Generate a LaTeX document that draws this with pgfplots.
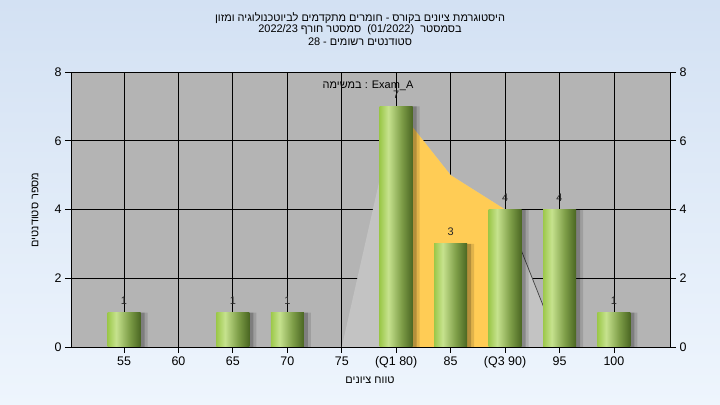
\documentclass[border=0pt]{standalone}
\usepackage{fontspec}
\setmainfont{Liberation Sans}
\newfontfamily\heb[Script=Hebrew]{Liberation Sans}
\usepackage{pgfplots}
\pgfplotsset{compat=1.18}
\TeXXeTstate=1
\definecolor{bgtop}{HTML}{D3E1F3}
\definecolor{bgbot}{HTML}{EEF5FD}
\definecolor{plotbg}{HTML}{B4B4B4}
\definecolor{polygray}{HTML}{C3C3C3}
\definecolor{qorange}{HTML}{FFCC55}
\definecolor{gA}{HTML}{9CC84A}
\definecolor{gB}{HTML}{C6E28E}
\definecolor{gM}{HTML}{7E9E48}
\definecolor{gC}{HTML}{4A6622}
\pgfdeclarehorizontalshading{barshade}{100bp}{color(0bp)=(gA); color(25bp)=(gA); color(38bp)=(gB); color(58bp)=(gM); color(75bp)=(gC); color(100bp)=(gC)}
\pgfplotsset{
  gbar/.style={ybar, bar width=33bp, bar shift=0bp, draw=none, shade, shading=barshade, nodes near coords},
  sbarA/.style={ybar, bar width=33bp, bar shift=7bp, draw=none, fill=black, fill opacity=0.12},
  sbarB/.style={ybar, bar width=33bp, bar shift=4bp, draw=none, fill=black, fill opacity=0.2},
}
\begin{document}
\begin{tikzpicture}
\fill[top color=bgtop, bottom color=bgbot] (0,0) rectangle (720bp,405bp);
\begin{axis}[
  at={(71bp,58bp)}, anchor=south west, scale only axis,
  width=599bp, height=275bp,
  xmin=-0.974, xmax=10.03, ymin=0, ymax=8,
  xtick={0,...,9},
  xticklabels={55,60,65,70,75,(Q1 80),85,(Q3 90),95,100},
  ytick={0,2,4,6,8},
  xtick pos=left, ytick pos=left,
  grid=major, major grid style={black, line width=0.8bp},
  axis background/.style={fill=plotbg},
  axis line style={black, line width=0.8bp},
  tick style={black, line width=0.8bp},
  tick align=outside, major tick length=6bp,
  ticklabel style={font=\fontsize{12.5}{14}\selectfont},
  /pgf/number format/assume math mode=true,
  every node near coord/.append style={font=\fontsize{11}{13}\selectfont, text=black!85, yshift=4.5bp},
]
\addplot[fill=polygray, draw=none] coordinates {(4,0) (5,7) (6,5) (7,4) (8,0)} \closedcycle;
\addplot[fill=qorange, draw=none] coordinates {(5,0) (5,7) (6,5) (7,4) (7,0)} \closedcycle;
\addplot[black!75, line width=0.7bp] coordinates {(7,4) (8,0)};
\addplot[sbarA] coordinates {(0,1) (2,1) (3,1) (5,7) (6,3) (7,4) (8,4) (9,1)};
\addplot[sbarB] coordinates {(0,1) (2,1) (3,1) (5,7) (6,3) (7,4) (8,4) (9,1)};
\addplot[gbar] coordinates {(0,1)};
\addplot[gbar] coordinates {(2,1)};
\addplot[gbar] coordinates {(3,1)};
\addplot[gbar] coordinates {(5,7)};
\addplot[gbar] coordinates {(6,3)};
\addplot[gbar] coordinates {(7,4)};
\addplot[gbar] coordinates {(8,4)};
\addplot[gbar] coordinates {(9,1)};
\end{axis}
\begin{axis}[
  at={(71bp,58bp)}, anchor=south west, scale only axis,
  width=599bp, height=275bp,
  xmin=-0.974, xmax=10.03, ymin=0, ymax=8,
  axis x line=none, axis y line*=right,
  ytick={0,2,4,6,8},
  axis line style={black, line width=0.8bp},
  tick style={black, line width=0.8bp},
  tick align=outside, major tick length=6bp,
  ticklabel style={font=\fontsize{12.5}{14}\selectfont},
  /pgf/number format/assume math mode=true,
]
\addplot[draw=none] coordinates {(0,0)};
\end{axis}
\node[font=\fontsize{11}{13}\selectfont\heb] at (368bp,319bp) {\beginR במשימה\endR{} : Exam\_A};
\node[font=\fontsize{11}{13}\selectfont\heb] at (360bp,387bp) {\beginR היסטוגרמת ציונים בקורס - חומרים מתקדמים לביוטכנולוגיה ומזון\endR};
\node[font=\fontsize{11}{13}\selectfont\heb] at (360bp,375bp) {2022/23 \beginR סמסטר חורף\endR\ \ (01/2022)\ \ \beginR בסמסטר\endR};
\node[font=\fontsize{11}{13}\selectfont\heb] at (360bp,363bp) {28 - \beginR סטודנטים רשומים\endR};
\node[font=\fontsize{11}{13}\selectfont\heb] at (370bp,25bp) {\beginR טווח ציונים\endR};
\node[font=\fontsize{11}{13}\selectfont\heb, rotate=90] at (35bp,195bp) {\beginR מספר סטודנטים\endR};
\pgfresetboundingbox
\useasboundingbox (0,0) rectangle (720bp,405bp);
\end{tikzpicture}
\end{document}
